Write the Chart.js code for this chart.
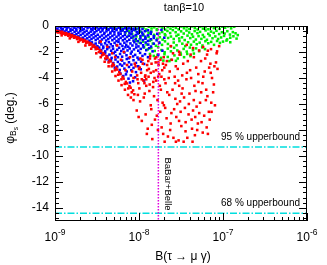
<!DOCTYPE html>
<html>
<head>
<meta charset="utf-8">
<script src="https://cdn.jsdelivr.net/npm/chart.js@4/dist/chart.umd.min.js"></script>
<style>
  body { margin: 0; background: #fff; }
  canvas { display: block; }
</style>
</head>
<body>
<canvas id="chart" width="327" height="265"></canvas>
<script>
// points are [B(tau -> mu gamma) in units of 1e-9, phi_Bs in deg.]
const X_UNIT = 1e-9;

const greenPoints = [
  [3.2,-0.03],[3.5,-0.08],[3.8,-0.02],[4.1,-0.06],[4.5,-0.04],[4.9,-0.09],[5.3,-0.03],[5.8,-0.12],[6.3,-0.05],[6.8,-0.18],
  [7.3,-0.04],[7.9,-0.14],[8.5,-0.26],[9.1,-0.07],[9.8,-0.2],[10.5,-0.04],[11.3,-0.15],[12.2,-0.27],[13.1,-0.06],[14.1,-0.19],
  [15.2,-0.1],[16.4,-0.24],[17.6,-0.03],[19,-0.16],[20.5,-0.28],[22,-0.08],[23.7,-0.2],[25.5,-0.05],[27.5,-0.14],[29.6,-0.26],
  [31.9,-0.04],[34.3,-0.17],[37,-0.09],[39.8,-0.23],[42.9,-0.03],[46.2,-0.15],[49.8,-0.27],[53.6,-0.06],[57.7,-0.2],[62,-0.1],
  [67,-0.25],[72,-0.04],[78,-0.16],[84,-0.07],[91,-0.22],[98,-0.05],[106,-0.13],[115,-0.03],[125,-0.18],[136,-0.06],
  [6.2,-0.35],[6.9,-0.5],[7.6,-0.4],[8.3,-0.62],[9,-0.33],[9.7,-0.55],[10.5,-0.44],[11.3,-0.66],[12.1,-0.36],[13,-0.52],
  [14,-0.42],[15.1,-0.68],[16.3,-0.31],[17.5,-0.57],[18.9,-0.46],[20.3,-0.63],[21.8,-0.38],[23.5,-0.54],[25.3,-0.32],[27.3,-0.48],
  [29.4,-0.67],[31.7,-0.41],[34.1,-0.58],[36.8,-0.35],[39.6,-0.5],[42.7,-0.64],[46,-0.39],[49.6,-0.55],[53.4,-0.45],[57.5,-0.69],
  [62,-0.34],[66.8,-0.6],[72,-0.43],[77.6,-0.53],[83.6,-0.37],[90,-0.62],[97,-0.48],[104.5,-0.58],[112.6,-0.4],[121,-0.66],
  [131,-0.47],[141,-0.56],[150,-0.7],
  [7.5,-0.75],[8.4,-0.9],[9.3,-0.8],[10.2,-1.02],[11.1,-0.73],[12,-0.95],[13,-0.84],[14,-1.07],[15.2,-0.77],[16.4,-0.98],
  [17.7,-0.86],[19.1,-1.05],[20.6,-0.72],[22.2,-0.92],[24,-0.81],[25.9,-1],[27.9,-0.76],[30.1,-0.96],[32.5,-0.87],[35,-1.08],
  [37.8,-0.74],[40.8,-0.93],[44,-0.82],[47.5,-1.04],[51.2,-0.78],[55.3,-0.99],[59.7,-0.85],[64.4,-1.06],[69.5,-0.73],[75,-0.94],
  [81,-0.8],[87.5,-1],[95,-0.88],[103,-0.76],[112,-1.03],[122,-0.9],[133,-0.79],[145,-0.97],
  [9.2,-1.15],[10.2,-1.3],[11.2,-1.2],[12.3,-1.42],[13.4,-1.14],[14.6,-1.35],[15.9,-1.52],[17.3,-1.24],[18.8,-1.45],[20.4,-1.18],
  [22.1,-1.38],[23.9,-1.56],[25.9,-1.27],[28,-1.48],[30.3,-1.16],[32.8,-1.36],[35.5,-1.55],[38.4,-1.25],[41.6,-1.44],[45,-1.2],
  [48.7,-1.4],[52.7,-1.28],[57,-1.5],[61.7,-1.17],[66.8,-1.33],[72.3,-1.22],[78.2,-1.45],[85,-1.15],[92,-1.3],[100,-1.2],
  [110,-1.12],[122,-1.25],
  [11.5,-1.65],[12.7,-1.8],[14,-1.7],[15.4,-1.92],[16.9,-1.63],[18.5,-1.85],[20.2,-2.02],[22,-1.74],[24,-1.95],[26.2,-1.68],
  [28.6,-1.88],[31.2,-2.06],[34,-1.76],[37,-1.97],[40.3,-1.66],[43.9,-1.86],[47.8,-1.72],[52,-1.94],[56.5,-1.64],[61,-1.78],
  [13.5,-2.15],[15,-2.3],[16.6,-2.22],[18.3,-2.45],[20.1,-2.17],[22,-2.38],[24.1,-2.6],[26.4,-2.26],[28.9,-2.5],[31.5,-2.2],
  [34.4,-2.4],[37.5,-2.15],[41,-2.32],[19.5,-2.66],[23,-2.7],[27.5,-2.68],[45,-2.12]
];

const bluePoints = [
  [1,-0.08],[1.06,-0.2],[1.12,-0.04],[1.18,-0.15],[1.24,-0.22],[1.31,-0.06],[1.38,-0.17],[1.45,-0.1],[1.53,-0.23],[1.61,-0.03],
  [1.7,-0.14],[1.79,-0.21],[1.88,-0.07],[1.98,-0.18],[2.08,-0.11],[2.2,-0.24],[2.31,-0.05],[2.44,-0.16],[2.57,-0.09],[2.7,-0.22],
  [2.85,-0.13],[3,-0.2],[3.16,-0.1],[3.33,-0.24],[3.5,-0.15],[3.7,-0.21],[3.9,-0.12],[4.1,-0.19],[4.35,-0.25],[4.6,-0.14],
  [4.85,-0.22],[5.1,-0.17],[5.4,-0.24],[5.7,-0.13],[6,-0.2],[6.4,-0.25],[6.8,-0.16],[7.2,-0.23],[7.6,-0.18],[8.1,-0.25],
  [8.6,-0.2],[9.2,-0.24],[10,-0.17],[11,-0.23],
  [1,-0.3],[1.07,-0.27],[1.15,-0.36],[1.22,-0.3],[1.3,-0.42],[1.37,-0.33],[1.45,-0.48],[1.53,-0.38],[1.62,-0.29],[1.71,-0.45],
  [1.8,-0.35],[1.9,-0.52],[2,-0.4],[2.12,-0.31],[2.25,-0.47],[2.38,-0.37],[2.52,-0.54],[2.66,-0.43],[2.8,-0.32],[2.96,-0.49],
  [3.12,-0.39],[3.3,-0.28],[3.48,-0.46],[3.67,-0.35],[3.88,-0.53],[4.1,-0.41],[4.32,-0.3],[4.56,-0.5],[4.82,-0.38],[5.1,-0.45],
  [5.4,-0.31],[5.7,-0.52],[6.05,-0.4],[6.4,-0.34],[6.8,-0.48],[7.2,-0.37],[7.7,-0.53],[8.2,-0.42],[8.8,-0.3],[9.4,-0.47],
  [10.1,-0.36],[10.9,-0.51],[11.8,-0.4],[12.8,-0.33],[13.9,-0.46],
  [1.4,-0.58],[1.5,-0.66],[1.6,-0.6],[1.7,-0.72],[1.8,-0.63],[1.9,-0.8],[2.02,-0.69],[2.15,-0.58],[2.28,-0.76],[2.42,-0.65],
  [2.57,-0.83],[2.72,-0.7],[2.88,-0.6],[3.05,-0.78],[3.23,-0.67],[3.42,-0.84],[3.62,-0.73],[3.84,-0.61],[4.06,-0.8],[4.3,-0.69],
  [4.55,-0.57],[4.82,-0.76],[5.1,-0.65],[5.4,-0.83],[5.72,-0.71],[6.05,-0.6],[6.42,-0.79],[6.8,-0.68],[7.2,-0.84],[7.65,-0.74],
  [8.1,-0.62],[8.6,-0.8],[9.15,-0.7],[9.7,-0.58],[10.4,-0.77],[11.1,-0.66],[11.9,-0.82],[12.8,-0.72],[13.8,-0.6],[15,-0.78],
  [1.9,-0.88],[2.02,-0.97],[2.15,-0.9],[2.28,-1.05],[2.42,-0.95],[2.57,-1.13],[2.72,-1],[2.88,-0.89],[3.05,-1.08],[3.23,-0.97],
  [3.42,-1.17],[3.62,-1.04],[3.84,-0.92],[4.06,-1.12],[4.3,-1],[4.55,-0.88],[4.82,-1.09],[5.1,-0.97],[5.4,-1.16],[5.72,-1.03],
  [6.05,-0.91],[6.42,-1.1],[6.8,-0.99],[7.2,-1.18],[7.65,-1.06],[8.1,-0.9],[8.6,-1.12],[9.15,-1],[9.7,-1.17],[10.4,-0.93],
  [11.1,-1.08],[11.9,-0.98],[12.8,-1.15],[13.8,-1.02],[15,-0.92],[16.2,-1.1],
  [2.5,-1.23],[2.62,-1.32],[2.75,-1.26],[2.9,-1.45],[3.05,-1.35],[3.2,-1.55],[3.38,-1.28],[3.56,-1.42],[3.75,-1.58],[3.95,-1.33],
  [4.16,-1.49],[4.38,-1.24],[4.62,-1.4],[4.86,-1.56],[5.12,-1.3],[5.4,-1.47],[5.7,-1.22],[6,-1.38],[6.35,-1.53],[6.7,-1.29],
  [7.05,-1.45],[7.45,-1.59],[7.9,-1.34],[8.35,-1.5],[8.8,-1.25],[9.3,-1.42],[9.85,-1.57],[10.5,-1.31],[11.2,-1.48],[12,-1.27],
  [12.9,-1.43],[13.9,-1.58],[15,-1.36],
  [3,-1.62],[3.18,-1.72],[3.36,-1.66],[3.55,-1.85],[3.75,-1.7],[3.96,-1.95],[4.18,-1.78],[4.42,-1.64],[4.66,-1.9],[4.92,-1.75],
  [5.2,-1.98],[5.5,-1.83],[5.8,-1.67],[6.15,-1.92],[6.5,-1.77],[6.9,-1.63],[7.3,-1.88],[7.75,-1.73],[8.2,-1.97],[8.7,-1.8],
  [9.25,-1.65],[9.8,-1.9],[10.5,-1.76],[11.3,-1.62],[12.2,-1.86],[13.2,-1.71],[14.5,-1.95],
  [3.5,-2.05],[3.72,-2.18],[3.95,-2.1],[4.2,-2.32],[4.45,-2.2],[4.72,-2.45],[5,-2.08],[5.3,-2.28],[5.62,-2.4],[5.95,-2.15],
  [6.3,-2.36],[6.7,-2.04],[7.1,-2.25],[7.55,-2.48],[8,-2.12],[8.5,-2.34],[9,-2.22],[9.6,-2.43],[10.3,-2.07],[11,-2.3],
  [11.8,-2.17],[12.8,-2.4],
  [4.1,-2.55],[4.4,-2.7],[4.65,-2.62],[4.95,-2.85],[5.25,-2.58],[5.6,-2.76],[5.95,-2.95],[6.3,-2.66],[6.7,-2.88],[7.15,-2.54],
  [7.6,-2.79],[8.1,-2.97],[8.6,-2.63],[9.2,-2.84],[9.9,-2.57],[10.6,-2.74],[11.5,-2.92],
  [4.8,-3.05],[5.15,-3.2],[5.5,-3.12],[5.9,-3.38],[6.3,-3.05],[6.7,-3.28],[7.15,-3.5],[7.6,-3.15],[8.1,-3.4],[8.6,-3.22],
  [9.2,-3.55],[9.8,-3.1],[10.5,-3.33],
  [6,-3.65],[6.5,-3.85],[7,-3.72],[7.5,-4.05],[8,-3.8],[8.5,-4.25],[9,-3.95],[7.8,-4.35],[11.5,-4.2],
  [16.5,-0.6],[17.5,-1.3],[18.5,-0.3],[19,-1.9],[20,-0.9],[17,-2.2]
];

const redPoints = [
  // band along the lower edge of the blue region
  [1,-0.33],[1.02,-0.45],[1.05,-0.38],[1.08,-0.5],[1.1,-0.41],[1.14,-0.47],[1.17,-0.55],[1.2,-0.44],[1.23,-0.6],[1.26,-0.51],
  [1.3,-0.58],[1.33,-0.68],[1.36,-0.56],[1.4,-0.64],[1.44,-0.75],[1.48,-0.62],[1.52,-0.71],[1.56,-0.84],[1.6,-0.7],[1.65,-0.78],
  [1.69,-0.9],[1.73,-0.8],[1.78,-0.87],[1.83,-1],[1.88,-0.88],[1.93,-0.95],[1.98,-1.1],[2.04,-1],[2.1,-1.05],[2.16,-1.2],
  [2.22,-1.08],[2.28,-1.15],[2.35,-1.3],[2.42,-1.2],[2.5,-1.27],[2.57,-1.45],[2.64,-1.33],[2.72,-1.42],[2.8,-1.6],[2.88,-1.5],
  [2.97,-1.58],[3.05,-1.78],[3.14,-1.66],[3.23,-1.75],[3.33,-2],[3.43,-1.86],[3.53,-1.95],[3.63,-2.25],[3.74,-2.08],[3.85,-2.18],
  [3.97,-2.5],[4.09,-2.32],[4.21,-2.45],[4.34,-2.8],[4.47,-2.6],[4.6,-2.72],[4.74,-3.1],[4.88,-2.9],[5.02,-3.02],[5.17,-3.4],
  [5.33,-3.22],[5.49,-3.35],[5.65,-3.75],[5.82,-3.55],[6,-3.7],[6.18,-4.1],[6.37,-3.92],[6.56,-4.05],[6.76,-4.45],[6.97,-4.3],
  [7.2,-4.42],[7.45,-4.8],[7.7,-4.62],[7.95,-4.75],[8.2,-5.1],[8.5,-4.95],[8.8,-5.25],
  [1.2,-0.72],[1.5,-0.95],[1.9,-1.22],[2.3,-1.5],[2.7,-1.75],[3.1,-2.1],[3.5,-2.4],[3.9,-2.75],[4.35,-3.1],[4.8,-3.5],
  [5.25,-3.85],[5.7,-4.2],[6.2,-4.55],[6.8,-4.9],[7.4,-5.3],[8,-5.5],[8.6,-5.7],
  // inside the blue region
  [3.5,-1.2],[4.2,-1.6],[4.8,-2.1],[5.5,-1.5],[6.1,-2.6],[6.6,-2],[7.2,-3],[7.8,-2.4],[8.3,-3.5],[8.9,-2.9],
  [9.5,-3.8],[10.2,-3.2],[11,-2.6],[11.8,-3.9],[12.5,-3],[13.5,-2.5],[5.2,-2.4],[6.9,-3.4],[8.6,-4],[9.8,-4.4],
  [10.8,-4.1],[12.2,-4.6],[13.8,-3.6],[14.8,-4.3],[16,-3.4],[17,-2.8],[15.5,-2.5],[18.5,-3.9],[20,-3.2],[21.5,-2.7],
  [9.1,-3.1],[10.6,-3.6],[12.9,-2.7],[11.3,-4.2],[14.9,-3.5],[16.1,-2.4],[13.4,-4.5],[10.4,-2.5],[15.3,-4],[17.7,-4.6],
  [12.5,-3.4],[9.6,-4.1],[18.9,-3.4],[14.1,-2.9],[11.7,-5.2],[20,-4.1],[16.9,-3.9],[10,-3.3],[13,-3.9],[19.3,-2.9],
  // upper right, among the green points
  [24,-1.55],[37,-1.45],[44,-1.7],[58,-1.62],[66,-1.9],[72,-1.78],[85,-1.95],[30,-1.98],[52,-1.88],[90,-1.55],
  // main cloud
  [10.3,-5.8],[27.4,-3.1],[14.2,-7.6],[48.5,-6.2],[19.7,-2.4],[63.1,-4.9],[11.6,-4.4],[35.8,-8.1],[22.9,-5.3],[71.4,-3.6],
  [16.3,-6.9],[41.2,-2.2],[9.4,-6.5],[55.6,-7.4],[30.1,-4.6],[13.1,-3.3],[82.5,-2.8],[25.7,-8.6],[18.2,-4.9],[44.9,-5.7],
  [12.4,-8.3],[67.8,-6.6],[33.6,-2.9],[21.3,-7.1],[58.2,-3.9],[15.1,-5.4],[38.9,-6.8],[10.8,-7.3],[76.3,-5.1],[28.5,-6],
  [17.4,-3.7],[51,-4.3],[24.6,-2.6],[46.3,-8.4],[13.8,-6.1],[86,-3.3],[31.9,-7.7],[20.5,-6.3],[61.4,-2.5],[36.7,-4.1],
  [11.1,-2.9],[42.8,-7.9],[26.9,-4.4],[69.5,-7.2],[16.8,-8],[53.3,-5.9],[23.2,-3.5],[39.9,-5.2],[14.7,-4.7],[74,-4],
  [29.6,-8.8],[19.1,-5.9],[57.4,-8.2],[34.4,-5.5],[12,-6.8],[48,-3.2],[22.1,-8.5],[65.2,-5.4],[27.8,-7],[15.8,-2.8],
  [44,-6.5],[9.7,-5.3],[80.2,-6.1],[32.7,-3.8],[18.6,-7.8],[59.7,-6.9],[25.1,-4.9],[37.6,-8.6],[13.3,-5],[70.8,-2.9],
  [20.9,-3],[50.2,-7.5],[30.8,-5.8],[11.9,-3.8],[45.6,-4.6],[17.9,-6.6],[63.9,-7.8],[26.2,-6.4],[40.6,-3.4],[14.4,-8.7],
  [54.7,-2.7],[23.8,-7.5],[35.2,-6.3],[10.1,-4.8],[77.9,-4.5],[19.4,-8.3],[47.1,-5],[28.9,-3.3],[15.5,-7.2],[62.5,-5.7],
  [33,-4.8],[21.7,-5.1],[43.4,-8.9],[12.7,-7.9],[68.4,-3.2],[24.3,-6.7],[38.1,-2.7],[16,-4.2],[52.1,-6.7],[30.4,-2.2],
  [9.9,-7],[73.1,-6.6],[27.1,-5.6],[41.7,-4],[18,-2.6],[57,-4.4],[22.6,-4],[35.9,-7.4],[13.6,-2.3],[84,-2.1],
  [31.3,-6.6],[20.2,-8.9],[49.3,-8],[25.4,-2.1],[60.6,-3.5],[16.6,-5.7],[39.2,-6],[11.4,-5.5],[66.1,-8.3],[29.2,-4.2],
  [45,-2.4],[23.5,-8],[55,-5.1],[34,-8.9],[17.1,-3],[72.5,-5.9],[26.6,-3.9],[42.3,-7.2],[14,-6.4],[79,-3.1],
  [32.2,-5.2],[20.7,-4.4],[50.8,-3.7],[27.5,-8.9],[37.2,-3.6],[12.2,-4.1],[64.6,-2.2],[19.8,-6.1],[46.7,-7],[30,-7.3]
];

const bound95 = -9.3;
const bound68 = -14.4;
const babarBelle = 1.7e-8;

const xDecades = [-9, -8, -7, -6];
const yLabels = [0, -2, -4, -6, -8, -10, -12, -14];

function toXY(points) {
  return points.map(([x, y]) => ({ x: x * X_UNIT, y }));
}

function dots(points, color) {
  return {
    data: toXY(points), pointStyle: 'rect', pointRadius: 1.8,
    backgroundColor: color, borderColor: color, borderWidth: 0
  };
}

function hline(y, color, dash) {
  return {
    data: [{ x: 1e-9, y }, { x: 1e-6, y }], showLine: true, pointRadius: 0,
    borderColor: color, borderWidth: 1.5, borderDash: dash
  };
}

const FONT = '"Liberation Sans", Arial, sans-serif';

const frame = {
  id: 'frame',
  afterDraw(chart) {
    const ctx = chart.ctx;
    const xs = chart.scales.x, ys = chart.scales.y;
    const { left, right, top, bottom } = chart.chartArea;
    ctx.save();
    ctx.strokeStyle = '#000';
    ctx.lineWidth = 1;
    ctx.strokeRect(left + 0.5, top + 0.5, right - left - 1, bottom - top - 1);

    ctx.beginPath();
    xDecades.forEach(e => {
      for (let m = 1; m <= 9; m++) {
        const v = m * Math.pow(10, e);
        if (v > 1.0001e-6) break;
        const px = Math.round(xs.getPixelForValue(v)) + 0.5;
        const len = m === 1 ? 8 : 4;
        ctx.moveTo(px, bottom); ctx.lineTo(px, bottom - len);
        ctx.moveTo(px, top); ctx.lineTo(px, top + len);
      }
    });
    for (let k = 0; k * 0.4 < 15; k++) {
      const py = Math.round(ys.getPixelForValue(-k * 0.4)) + 0.5;
      const len = k % 5 === 0 ? 8 : 4;
      ctx.moveTo(left, py); ctx.lineTo(left + len, py);
      ctx.moveTo(right, py); ctx.lineTo(right - len, py);
    }
    ctx.stroke();

    ctx.fillStyle = '#000';
    ctx.font = '12px ' + FONT;
    ctx.textAlign = 'right';
    ctx.textBaseline = 'middle';
    yLabels.forEach(v => ctx.fillText(String(v), left - 6, ys.getPixelForValue(v)));

    ctx.textAlign = 'left';
    ctx.textBaseline = 'alphabetic';
    xDecades.forEach(e => {
      const px = xs.getPixelForValue(Math.pow(10, e));
      ctx.font = '12px ' + FONT;
      const w1 = ctx.measureText('10').width;
      ctx.font = '8.5px ' + FONT;
      const w2 = ctx.measureText(String(e)).width;
      const x0 = px - (w1 + w2) / 2;
      ctx.font = '12px ' + FONT;
      ctx.fillText('10', x0, 241);
      ctx.font = '8.5px ' + FONT;
      ctx.fillText(String(e), x0 + w1, 235);
    });

    ctx.textAlign = 'center';
    ctx.textBaseline = 'middle';
    ctx.font = '11px ' + FONT;
    ctx.fillText('tanβ=10', (left + right) / 2 + 3, 8);
    ctx.font = '12px ' + FONT;
    ctx.fillText('B(τ → μ γ)', (left + right) / 2 + 2, 257);

    // y title: phi_{B_s} (deg.)
    ctx.save();
    ctx.translate(11, 118);
    ctx.rotate(-Math.PI / 2);
    ctx.textAlign = 'left';
    ctx.textBaseline = 'middle';
    const parts = [['φ', 12, 0], ['B', 8.5, 3], ['s', 6.5, 5], [' (deg.)', 12, 0]];
    let total = 0;
    parts.forEach(p => { ctx.font = p[1] + 'px ' + FONT; total += ctx.measureText(p[0]).width; });
    let cx = -total / 2;
    parts.forEach(p => {
      ctx.font = p[1] + 'px ' + FONT;
      ctx.fillText(p[0], cx, p[2]);
      cx += ctx.measureText(p[0]).width;
    });
    ctx.restore();

    ctx.font = '10px ' + FONT;
    ctx.textAlign = 'right';
    ctx.fillText('95 % upperbound', right - 7, ys.getPixelForValue(bound95) - 10);
    ctx.fillText('68 % upperbound', right - 7, ys.getPixelForValue(bound68) - 10);

    ctx.save();
    ctx.translate(xs.getPixelForValue(babarBelle) + 9, 184);
    ctx.rotate(Math.PI / 2);
    ctx.textAlign = 'center';
    ctx.font = '9.5px ' + FONT;
    ctx.fillText('BaBar+Belle', 0, 0);
    ctx.restore();

    ctx.restore();
  }
};

new Chart(document.getElementById('chart'), {
  type: 'scatter',
  data: {
    datasets: [
      {
        data: [{ x: babarBelle, y: 0 }, { x: babarBelle, y: -15 }], showLine: true, pointRadius: 0,
        borderColor: '#e000e0', borderWidth: 1.5, borderDash: [1.5, 1.5]
      },
      hline(bound95, '#00dede', [7, 2, 1.5, 2]),
      hline(bound68, '#00dede', [7, 2, 1.5, 2]),
      dots(redPoints, '#ff0000'),
      dots(bluePoints, '#0000ff'),
      dots(greenPoints, '#00f000')
    ]
  },
  options: {
    responsive: false,
    animation: false,
    devicePixelRatio: 1,
    layout: { padding: { left: 55, top: 26, right: 20, bottom: 44 } },
    scales: {
      x: { type: 'logarithmic', min: 1e-9, max: 1e-6, display: false },
      y: { type: 'linear', min: -15, max: 0, display: false }
    },
    plugins: { legend: { display: false }, tooltip: { enabled: false } }
  },
  plugins: [frame]
});
</script>
</body>
</html>
